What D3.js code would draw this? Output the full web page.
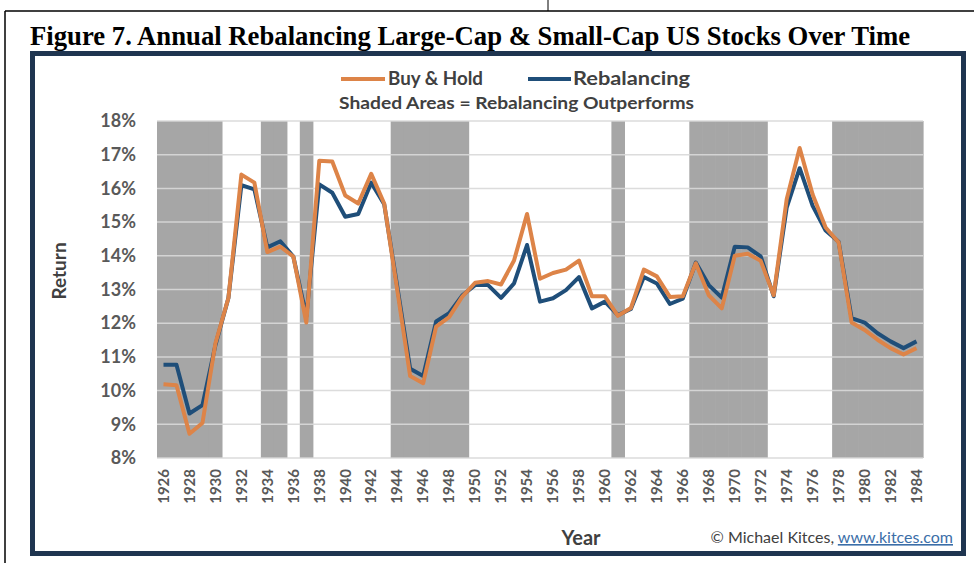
<!DOCTYPE html>
<html>
<head>
<meta charset="utf-8">
<script src="https://cdn.jsdelivr.net/npm/d3@7"></script>
<style>
  html, body { margin: 0; padding: 0; background: #fff; }
  svg { display: block; }
</style>
</head>
<body>
<script>
const years = [1926,1927,1928,1929,1930,1931,1932,1933,1934,1935,
  1936,1937,1938,1939,1940,1941,1942,1943,1944,1945,
  1946,1947,1948,1949,1950,1951,1952,1953,1954,1955,
  1956,1957,1958,1959,1960,1961,1962,1963,1964,1965,
  1966,1967,1968,1969,1970,1971,1972,1973,1974,1975,
  1976,1977,1978,1979,1980,1981,1982,1983,1984];

const buyHold = [10.19,10.16,8.72,9.04,11.4,12.75,16.41,16.17,14.11,14.27,
  13.98,12.02,16.82,16.8,15.79,15.55,16.43,15.55,13.0,10.43,
  10.22,11.9,12.18,12.78,13.2,13.25,13.15,13.86,15.24,13.32,
  13.49,13.59,13.86,12.8,12.8,12.22,12.45,13.59,13.39,12.78,
  12.8,13.78,12.83,12.44,14.0,14.06,13.85,12.83,15.68,17.2,
  15.82,14.84,14.4,12.02,11.8,11.51,11.26,11.07,11.26];

const rebalancing = [10.77,10.77,9.32,9.57,11.35,12.75,16.1,15.97,14.25,14.43,
  13.98,12.2,16.12,15.87,15.16,15.24,16.17,15.53,13.1,10.65,
  10.43,12.05,12.3,12.82,13.13,13.13,12.75,13.18,14.32,12.64,
  12.74,12.98,13.37,12.44,12.64,12.24,12.42,13.37,13.18,12.57,
  12.73,13.8,13.13,12.76,14.27,14.25,13.98,12.8,15.43,16.6,
  15.48,14.75,14.42,12.15,12.02,11.7,11.46,11.26,11.46];

const shadedYears = [1926,1927,1928,1929,1930,1934,1935,1937,
  1944,1945,1946,1947,1948,1949,1961,
  1967,1968,1969,1970,1971,1972,
  1978,1979,1980,1981,1982,1983,1984];

const yTicks = [8,9,10,11,12,13,14,15,16,17,18];
const xTickYears = [1926,1928,1930,1932,1934,1936,1938,1940,1942,1944,1946,1948,1950,
  1952,1954,1956,1958,1960,1962,1964,1966,1968,1970,1972,1974,1976,1978,1980,1982,1984];

const W = 974, H = 563;
const svg = d3.select("body").append("svg").attr("width", W).attr("height", H);

// page frame lines
svg.append("line").attr("x1", 5).attr("x2", 974).attr("y1", 11).attr("y2", 11).attr("stroke", "#000").attr("stroke-width", 1.5);
svg.append("line").attr("x1", 5).attr("x2", 5).attr("y1", 11).attr("y2", 563).attr("stroke", "#000").attr("stroke-width", 1.5);
svg.append("line").attr("x1", 548).attr("x2", 548).attr("y1", 0).attr("y2", 11).attr("stroke", "#000").attr("stroke-width", 1);

// title
svg.append("text").attr("x", 30).attr("y", 45)
  .attr("font-family", "'Liberation Serif', 'Times New Roman', serif")
  .attr("font-weight", "bold").attr("font-size", 28)
  .attr("textLength", 880).attr("lengthAdjust", "spacingAndGlyphs")
  .attr("fill", "#000")
  .text("Figure 7. Annual Rebalancing Large-Cap & Small-Cap US Stocks Over Time");

// chart box
svg.append("rect").attr("x", 32.5).attr("y", 53.5).attr("width", 931).attr("height", 500)
  .attr("fill", "#fff").attr("stroke", "#1f3550").attr("stroke-width", 5);

const font = "Lato, 'Open Sans', sans-serif";
const x = d3.scaleBand().domain(years).range([157, 923]).padding(0);
const y = d3.scaleLinear().domain([8, 18]).range([458, 121]);
const cx = d => x(d) + x.bandwidth() / 2;

// shaded areas
svg.append("g").selectAll("rect").data(shadedYears).join("rect")
  .attr("x", d => x(d)).attr("width", x.bandwidth() + 0.6)
  .attr("y", y(18)).attr("height", y(8) - y(18))
  .attr("fill", "#a6a6a6");

// gridlines
svg.append("g").selectAll("line").data(yTicks).join("line")
  .attr("x1", 157).attr("x2", 923)
  .attr("y1", d => y(d)).attr("y2", d => y(d))
  .attr("stroke", "#d9d9d9").attr("stroke-width", 1.5).attr("opacity", 0.9);

// y axis
const yAxis = svg.append("g").attr("transform", "translate(136,0)")
  .call(d3.axisLeft(y).tickValues(yTicks).tickFormat(d => d + "%").tickSize(0).tickPadding(0));
yAxis.select(".domain").remove();
yAxis.selectAll("text").attr("font-family", font).attr("font-weight", "bold")
  .attr("font-size", 18).attr("fill", "#595959");

// x axis
const xAxis = svg.append("g").attr("transform", "translate(0,469)")
  .call(d3.axisBottom(x).tickValues(xTickYears).tickSize(0).tickPadding(0));
xAxis.select(".domain").remove();
xAxis.selectAll("text")
  .attr("font-family", font).attr("font-weight", "bold").attr("font-size", 15).attr("fill", "#595959")
  .attr("transform", "rotate(-90)").attr("text-anchor", "end")
  .attr("x", 0).attr("y", 0).attr("dy", "0.35em");

// lines
const line = d3.line().x((d, i) => cx(years[i])).y(d => y(d));
svg.append("path").datum(rebalancing).attr("d", line)
  .attr("fill", "none").attr("stroke", "#1f4e79").attr("stroke-width", 4).attr("stroke-linejoin", "round");
svg.append("path").datum(buyHold).attr("d", line)
  .attr("fill", "none").attr("stroke", "#dd8448").attr("stroke-width", 4).attr("stroke-linejoin", "round");

// legend
const lg = svg.append("g");
lg.append("line").attr("x1", 341).attr("x2", 385).attr("y1", 79).attr("y2", 79).attr("stroke", "#dd8448").attr("stroke-width", 4);
lg.append("text").attr("x", 388).attr("y", 85).attr("font-family", font).attr("font-weight", "bold")
  .attr("font-size", 19).attr("fill", "#404040")
  .attr("textLength", 95).attr("lengthAdjust", "spacingAndGlyphs").text("Buy & Hold");
lg.append("line").attr("x1", 528).attr("x2", 571).attr("y1", 79).attr("y2", 79).attr("stroke", "#1f4e79").attr("stroke-width", 4);
lg.append("text").attr("x", 573).attr("y", 85).attr("font-family", font).attr("font-weight", "bold")
  .attr("font-size", 19).attr("fill", "#404040")
  .attr("textLength", 117).attr("lengthAdjust", "spacingAndGlyphs").text("Rebalancing");
svg.append("text").attr("x", 339).attr("y", 109)
  .attr("font-family", font).attr("font-weight", "bold").attr("font-size", 17).attr("fill", "#404040")
  .attr("textLength", 355).attr("lengthAdjust", "spacingAndGlyphs")
  .text("Shaded Areas = Rebalancing Outperforms");

// axis titles
svg.append("text").attr("transform", "translate(66,271) rotate(-90)").attr("text-anchor", "middle")
  .attr("font-family", font).attr("font-weight", "bold").attr("font-size", 19).attr("fill", "#404040")
  .text("Return");
svg.append("text").attr("x", 581).attr("y", 545).attr("text-anchor", "middle")
  .attr("font-family", font).attr("font-weight", "bold").attr("font-size", 20).attr("fill", "#404040")
  .text("Year");

// credit
const cr = svg.append("text").attr("x", 953).attr("y", 543).attr("text-anchor", "end")
  .attr("font-family", font).attr("font-size", 16).attr("fill", "#404040");
cr.append("tspan").text("© Michael Kitces, ");
cr.append("tspan").attr("fill", "#3b6ea8").attr("text-decoration", "underline").text("www.kitces.com");
</script>
</body>
</html>
